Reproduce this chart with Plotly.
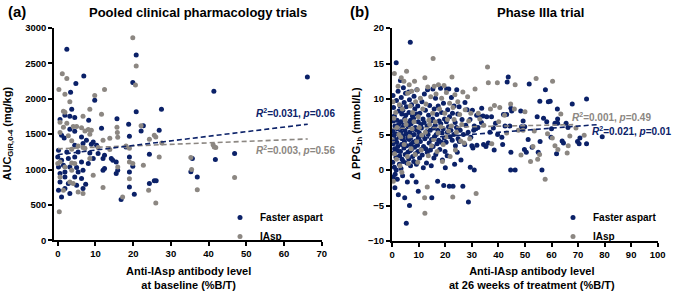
import plotly.graph_objects as go

NAVY = "#0b2168"
GRAY = "#8c8782"
FONT = "Liberation Sans, Arial, sans-serif"

# ---------------- Panel (a): pooled clinical pharmacology trials ----------------
a_faster = [
    (2.4, 2700), (6.9, 2320), (4.8, 2215), (3.4, 2093), (9.8, 1980), (19.9, 2230), (20.8, 2620),
    (3.7, 1853), (1.9, 1768), (3.2, 1754), (4.5, 1735), (0.6, 1707), (8.2, 1697), (20.8, 1815),
    (15.7, 1716), (18.8, 1640), (22.7, 1620), (22.1, 1546), (11.6, 1584), (3.2, 1570), (4.5, 1542),
    (1.0, 1485), (1.7, 1447), (6.3, 1461), (7.6, 1414), (9.4, 1390), (8.9, 1357), (6.7, 1367),
    (4.5, 1343), (19.0, 1470), (26.9, 1556), (2.4, 1249), (0.2, 1273), (5.4, 1249), (8.5, 1235),
    (10.7, 1226), (12.4, 1202), (14.2, 1155), (15.5, 1108), (14.6, 1131), (19.0, 1178), (24.3, 1216),
    (12.0, 1155), (0.0, 1178), (1.0, 1131), (2.8, 1155), (4.5, 1178), (6.3, 1108), (8.1, 1084),
    (9.4, 1155), (1.5, 1061), (0.2, 1037), (3.2, 1037), (5.0, 1028), (6.7, 990), (5.4, 966),
    (1.9, 966), (12.0, 990), (12.4, 1014), (15.9, 990), (15.5, 943), (19.0, 966), (19.9, 1047),
    (4.5, 896), (6.3, 872), (0.6, 943), (1.9, 896), (0.6, 825), (2.8, 801), (0.2, 707), (1.9, 731),
    (3.2, 660), (1.0, 613), (5.0, 778), (6.7, 731), (7.4, 792), (19.0, 754), (20.3, 650), (16.8, 575),
    (24.3, 801), (25.6, 840), (10.3, 1343), (18.1, 1320), (66.2, 2306), (41.4, 2107), (27.5, 1853),
    (35.7, 1155), (41.8, 1141), (46.9, 1226), (35.3, 967), (37.0, 896), (26.1, 840),
]
a_iasp = [
    (19.9, 2862), (20.8, 2462), (20.6, 2193), (1.2, 2352), (2.4, 2285), (0.3, 2132), (1.9, 2065),
    (3.2, 1957), (12.4, 2132), (9.8, 2047), (1.5, 1825), (1.9, 1811), (0.6, 1669), (2.4, 1655),
    (4.1, 1608), (5.0, 1608), (6.3, 1589), (1.5, 1598), (6.7, 1754), (8.5, 1853), (11.6, 1782),
    (8.1, 1565), (8.9, 1556), (7.2, 1546), (8.5, 1500), (0.6, 1523), (2.8, 1476), (3.7, 1405),
    (5.4, 1334), (6.7, 1310), (3.7, 1287), (7.2, 1301), (12.0, 1414), (13.8, 1443), (15.7, 1598),
    (15.8, 1523), (15.9, 1457), (10.7, 1310), (13.8, 1282), (18.1, 1334), (19.0, 1301), (24.3, 1428),
    (26.0, 1461), (22.1, 1617), (0.0, 1084), (0.6, 1108), (3.7, 1094), (4.5, 1084), (1.9, 1037),
    (3.7, 990), (8.5, 1155), (15.9, 1037), (19.0, 1108), (19.9, 1084), (22.7, 1061), (26.9, 1178),
    (0.6, 896), (9.4, 919), (3.2, 825), (4.1, 801), (5.4, 684), (6.7, 660), (1.5, 707), (12.0, 745),
    (17.2, 613), (19.0, 868), (24.1, 707), (26.0, 528), (0.4, 405), (25.6, 1485), (27.6, 1376),
    (35.3, 1170), (35.5, 1000), (41.2, 1350), (41.5, 1320), (41.9, 1310), (46.9, 887), (37.0, 716),
]
# regression lines: (intercept, slope, x_start, x_end)
a_fit_faster = (1210, 6.5, 0.0, 66.3)
a_fit_iasp = (1293, 2.1, 0.0, 66.3)

# ---------------- Panel (b): phase IIIa trial ----------------
b_faster = [
    (0.3, 10.5), (0.5, 8.8), (0.8, 7.6), (0.4, 6.9), (1.0, 6.2), (0.2, 5.5), (0.6, 4.9), (1.2, 4.3),
    (0.3, 3.7), (0.9, 3.0), (0.5, 2.4), (1.4, 1.8), (0.2, 1.1), (0.8, 0.4), (1.1, -0.6), (0.4, -1.0),
    (1.0, -2.5), (1.5, 15.1), (1.6, 9.8), (1.8, 7.0), (1.9, 5.8), (1.3, 5.1), (1.7, 3.9), (2.0, 2.7),
    (1.5, 0.0), (1.9, -1.3), (2.3, -3.5), (2.2, 11.1), (2.5, 8.3), (2.4, 6.4), (2.6, 4.6), (2.1, 3.3),
    (2.8, 2.0), (2.7, 0.8), (3.1, 12.6), (3.4, 10.2), (3.0, 9.0), (3.6, 7.9), (3.3, 6.8), (3.8, 5.9),
    (3.2, 5.3), (3.9, 4.4), (3.5, 3.6), (3.1, 2.6), (3.7, 1.5), (3.3, 0.2), (3.9, -0.8), (4.2, 11.6),
    (4.5, 9.5), (4.0, 8.4), (4.7, 7.2), (4.3, 6.3), (4.8, 5.6), (4.1, 4.8), (4.6, 4.0), (4.4, 3.1),
    (4.9, 2.2), (4.2, 1.2), (4.7, -3.9), (5.0, 10.8), (5.3, 8.9), (5.1, 7.7), (5.6, 6.6), (5.2, 5.1),
    (5.8, 4.5), (5.4, 3.4), (5.9, 2.5), (5.5, 1.0), (5.3, -7.5), (5.7, -1.7), (6.8, 18.0), (6.2, 11.0),
    (6.5, 9.9), (6.3, 8.1), (6.9, 7.0), (6.1, 6.1), (6.6, 5.3), (6.4, 4.3), (7.0, 3.6), (6.7, 2.7),
    (6.2, 1.6), (6.9, 0.6), (6.5, -5.0), (7.3, 9.2), (7.6, 7.6), (7.1, 6.5), (7.8, 5.7), (7.4, 4.9),
    (7.9, 3.9), (7.2, 2.9), (7.7, 1.9), (7.5, -0.8), (8.2, 10.4), (8.5, 8.6), (8.0, 7.3), (8.7, 6.0),
    (8.3, 5.0), (8.9, 4.1), (8.4, 3.2), (8.8, 2.3), (8.1, 1.2), (9.0, -1.7), (9.3, 11.3), (9.6, 9.0),
    (9.2, 7.9), (9.8, 6.8), (9.4, 5.6), (9.9, 4.6), (9.5, 3.5), (9.7, 2.6), (9.1, 0.8), (9.8, -3.0),
    (10.4, 8.0), (10.8, 6.4), (10.2, 5.2), (10.6, 4.0), (10.9, 2.9), (10.3, 1.7), (11.2, 9.6),
    (11.6, 7.2), (11.0, 5.9), (11.5, 4.8), (11.8, 3.3), (11.3, 2.1), (11.7, 0.3), (12.1, 10.7),
    (12.5, 8.4), (12.0, 6.7), (12.8, 5.4), (12.3, 4.4), (12.6, 3.0), (12.9, 1.0), (13.3, 11.3),
    (13.7, 7.7), (13.1, 6.2), (13.5, 5.0), (13.9, 3.8), (13.2, 2.5), (14.1, 9.1), (14.6, 6.9),
    (14.3, 5.6), (14.8, 4.3), (14.4, 2.8), (14.9, -3.9), (14.7, 0.6), (15.3, 11.4), (15.8, 8.6),
    (15.2, 7.2), (15.6, 5.9), (15.9, 4.7), (15.4, 3.3), (15.7, 1.7), (16.3, 10.1), (16.8, 7.8),
    (16.2, 6.3), (16.6, 5.0), (16.9, 3.7), (16.4, 2.2), (17.3, 9.0), (17.7, 6.9), (17.2, 5.6),
    (17.5, 4.2), (17.9, 2.9), (17.1, -1.6), (18.2, 11.5), (18.6, 8.1), (18.3, 6.5), (18.8, 5.2),
    (18.5, 3.9), (18.9, 1.4), (19.3, 9.4), (19.7, 7.2), (19.2, 5.8), (19.6, 4.5), (19.9, 2.6),
    (19.4, -2.2), (20.0, 0.3), (20.5, 11.4), (20.9, 8.5), (20.4, 6.8), (20.8, 5.3), (20.3, 3.9),
    (20.7, 2.0), (21.3, 11.4), (21.6, 7.5), (21.2, 6.1), (21.8, 4.7), (21.5, -2.3), (22.3, 10.2),
    (22.7, 8.0), (22.1, 5.6), (22.6, 4.2), (22.9, -2.3), (23.3, 9.0), (23.7, 6.7), (23.2, 5.0),
    (23.8, 3.4), (23.5, 0.8), (24.3, 11.3), (24.7, 7.9), (24.2, 6.0), (24.8, 4.4), (24.5, 2.5),
    (25.2, 8.9), (25.6, 5.6), (25.3, 4.0), (25.9, 1.4), (26.6, -2.3), (26.3, 7.1), (26.8, 5.0),
    (27.4, 9.5), (27.7, 6.3), (27.3, 3.6), (28.2, 8.5), (28.6, 5.3), (28.7, -4.5), (29.3, 7.1),
    (29.6, 4.6), (29.4, 0.4), (30.2, 8.4), (30.7, 5.6), (30.4, 3.1), (30.9, 0.0), (31.8, 7.7),
    (33.0, 7.5), (34.2, 7.6), (35.6, 7.5), (37.4, 7.5), (33.7, 8.7), (41.9, 7.8), (43.1, 7.8),
    (44.7, 8.7), (45.0, 8.3), (48.4, 8.3), (33.6, 6.7), (32.3, 6.0), (30.9, 6.2), (31.5, 5.8),
    (38.9, 6.6), (38.1, 5.9), (42.5, 6.2), (44.3, 6.2), (49.3, 6.9), (48.7, 6.1), (49.9, 6.1),
    (36.8, 5.3), (39.7, 5.0), (41.3, 4.6), (30.0, 3.4), (31.9, 3.5), (34.4, 3.6), (36.2, 3.8),
    (35.3, 3.3), (41.6, 3.6), (38.4, 2.8), (44.7, 2.5), (49.8, 2.9), (51.2, 4.3), (52.7, 3.2),
    (44.6, 0.0), (46.3, 0.0), (43.7, 13.1), (43.3, 12.4), (51.6, 12.1), (57.7, 11.3), (55.6, 9.7),
    (58.8, 9.6), (59.5, 9.7), (54.6, 7.5), (57.0, 7.3), (58.2, 6.8), (61.3, 6.6), (60.0, 5.8),
    (55.7, 4.0), (59.8, 4.6), (61.9, 2.3), (56.4, 0.0), (55.0, 2.5), (50.5, 2.5), (62.2, 8.6),
    (62.3, 7.2), (62.3, 6.6), (64.0, 4.1), (65.5, 6.6), (66.2, 6.0), (67.8, 9.3), (69.8, 4.0),
    (70.7, 4.5), (73.2, 10.0), (73.2, 3.7), (79.1, 4.7), (64.5, 3.8), (70.4, 3.7),
]
b_iasp = [
    (0.8, 13.6), (0.3, 9.6), (0.6, 7.3), (0.2, 4.2), (0.9, 2.3), (0.4, -1.6), (1.3, 8.1), (1.8, 6.0),
    (1.6, 1.5), (2.2, 11.8), (2.7, 9.2), (2.5, 5.0), (2.9, 0.6), (3.4, 13.0), (3.8, 8.6), (3.2, 4.6),
    (3.6, -0.3), (4.4, 12.5), (4.9, 7.0), (4.5, 3.6), (5.4, 13.9), (5.8, 10.8), (5.2, 6.4), (5.7, 1.9),
    (6.4, 12.0), (6.8, 9.0), (6.6, 4.7), (6.1, 0.9), (7.3, 11.1), (7.7, 8.1), (7.5, 5.8), (7.1, 3.0),
    (8.4, 12.5), (8.8, 9.6), (8.2, 6.8), (8.6, 2.2), (9.4, 11.3), (9.8, 7.5), (9.2, 4.0), (9.6, 1.1),
    (10.6, 10.1), (10.2, 6.0), (10.9, 2.8), (11.5, 8.6), (11.1, 4.9), (12.3, 13.0), (12.7, 9.3),
    (12.5, 5.3), (12.2, -3.9), (12.3, -6.1), (13.4, 11.7), (13.8, 7.0), (13.6, 2.0), (13.2, -2.4),
    (14.5, 10.3), (14.1, 6.4), (14.8, 3.4), (15.4, 15.7), (15.8, 11.8), (15.2, 8.0), (15.6, 4.3),
    (16.5, 10.7), (16.2, 6.8), (16.9, 2.6), (17.4, 12.0), (17.8, 8.6), (17.3, 5.2), (18.6, 10.1),
    (18.3, 6.1), (18.9, 1.2), (19.5, 11.9), (19.8, 8.0), (19.2, 3.6), (20.4, 10.9), (20.8, 7.1),
    (20.3, 4.7), (21.6, 9.4), (21.2, 5.5), (21.8, 1.9), (22.5, 13.1), (22.9, 8.8), (22.3, 6.2),
    (22.8, -3.8), (23.6, 10.6), (23.3, 7.1), (23.8, 2.8), (24.7, 9.6), (24.2, 5.3), (25.4, 7.8),
    (25.8, 4.1), (26.6, 11.0), (26.2, 6.4), (27.5, 8.5), (27.1, 3.8), (28.4, 10.3), (28.8, 6.9),
    (29.6, 8.0), (29.2, 4.4), (31.2, 11.4), (31.6, -3.3), (32.4, 8.0), (33.0, 7.2), (34.5, 6.3),
    (35.9, 14.5), (36.2, 12.3), (37.0, 8.6), (38.5, 9.1), (37.5, 3.7), (39.6, 12.3), (40.5, 8.8),
    (40.1, 6.8), (42.3, 7.7), (43.1, 5.2), (44.6, 9.3), (46.3, 12.0), (46.0, 8.6), (47.5, 5.6),
    (50.0, 8.2), (48.5, 2.1), (52.1, 1.2), (53.5, 5.5), (54.2, 12.9), (54.8, 1.5), (55.5, 2.2),
    (57.6, -1.3), (58.5, 5.1), (60.4, 12.5), (60.3, 4.5), (61.3, 3.4), (62.4, 2.9), (63.5, 7.9),
    (66.3, 3.4), (66.9, 4.8), (69.2, 5.9), (72.3, 4.9), (65.9, 2.4), (53.0, 3.3), (49.3, 5.6),
]
b_fit_faster = (4.15, 0.029, 0.0, 78.0)
b_fit_iasp = (5.85, 0.008, 0.0, 69.0)

series_names = ["Faster aspart", "IAsp"]
stats_a = ["<i>R</i><sup>2</sup>=0.031, <i>p</i>=0.06", "<i>R</i><sup>2</sup>=0.003, <i>p</i>=0.56"]
stats_b = ["<i>R</i><sup>2</sup>=0.021, <i>p</i>=0.01", "<i>R</i><sup>2</sup>=0.001, <i>p</i>=0.49"]

W, H = 673, 294
fig = go.Figure()


def px_x(p):
    return p / W


def px_y(p):
    return 1 - p / H


def add_scatter(pts, color, name, xa, ya, legend):
    fig.add_trace(go.Scatter(
        x=[p[0] for p in pts], y=[p[1] for p in pts], mode="markers", name=name,
        marker=dict(color=color, size=5, line=dict(width=0)),
        xaxis=xa, yaxis=ya, legend=legend, hoverinfo="skip"))


def add_fit(fit, color, xa, ya):
    b0, b1, x0, x1 = fit
    fig.add_trace(go.Scatter(
        x=[x0, x1], y=[b0 + b1 * x0, b0 + b1 * x1], mode="lines",
        line=dict(color=color, width=1.6, dash="5px,3px"), showlegend=False,
        xaxis=xa, yaxis=ya, hoverinfo="skip"))


add_scatter(a_faster, NAVY, series_names[0], "x", "y", "legend")
add_scatter(a_iasp, GRAY, series_names[1], "x", "y", "legend")
add_fit(a_fit_iasp, GRAY, "x", "y")
add_fit(a_fit_faster, NAVY, "x", "y")

add_scatter(b_faster, NAVY, series_names[0], "x2", "y2", "legend2")
add_scatter(b_iasp, GRAY, series_names[1], "x2", "y2", "legend2")
add_fit(b_fit_iasp, GRAY, "x2", "y2")
add_fit(b_fit_faster, NAVY, "x2", "y2")

axis_common = dict(showline=True, linecolor="black", linewidth=1.5, ticks="outside", ticklen=4,
                   tickwidth=1.5, tickcolor="black", showgrid=False, zeroline=False, automargin=False,
                   tickfont=dict(family=FONT, size=9.5, color="black", weight="bold"))

legend_common = dict(xanchor="left", yanchor="top", bgcolor="rgba(0,0,0,0)",
                     font=dict(family=FONT, size=10, color="black", weight="bold"), tracegroupgap=0)

fig.update_layout(
    width=W, height=H, margin=dict(l=0, r=0, t=0, b=0, autoexpand=False),
    paper_bgcolor="white", plot_bgcolor="white",
    font=dict(family=FONT, color="black"),
    xaxis=dict(domain=[px_x(54), px_x(321.7)], range=[-1, 70], tickmode="linear", tick0=0, dtick=10,
               anchor="y", **axis_common),
    yaxis=dict(domain=[px_y(240.3), px_y(28)], range=[0, 3000], tickmode="linear", tick0=0, dtick=500,
               anchor="x", **axis_common),
    xaxis2=dict(domain=[px_x(391.7), px_x(657.7)], range=[-0.2, 100], tickmode="linear", tick0=0,
                dtick=10, anchor="y2", **axis_common),
    yaxis2=dict(domain=[px_y(241), px_y(28)], range=[-10, 20], tickmode="linear", tick0=-10, dtick=5,
                anchor="x2", **axis_common),
    legend=dict(x=px_x(220), y=px_y(203), **legend_common),
    legend2=dict(x=px_x(553), y=px_y(203), **legend_common),
    showlegend=True,
)

ann = []


def text(x, y, s, size, color="black", xanchor="center", angle=0, bold=True):
    ann.append(dict(x=px_x(x), y=px_y(y), xref="paper", yref="paper", text=s, showarrow=False,
                    xanchor=xanchor, yanchor="middle", textangle=angle,
                    font=dict(family=FONT, size=size, color=color, weight="bold" if bold else "normal")))


text(6, 11, "(a)", 15, xanchor="left")
text(198, 12, "Pooled clinical pharmacology trials", 13)
text(348, 11, "(b)", 15, xanchor="left")
text(540, 12, "Phase IIIa trial", 13)

text(7.5, 134, "AUC<sub>GIR,0-4</sub> (mg/kg)", 11, angle=-90)
text(357, 134, "\u0394 PPG<sub>1h</sub> (mmol/L)", 11, angle=-90)

text(188, 278, "Anti-IAsp antibody level<br>at baseline (%B/T)", 11)
text(531.5, 278, "Anti-IAsp antibody level<br>at 26 weeks of treatment (%B/T)", 11)

text(337, 113, stats_a[0], 10, color=NAVY, xanchor="right")
text(337, 150, stats_a[1], 10, color=GRAY, xanchor="right")
text(653, 117, stats_b[1], 10, color=GRAY, xanchor="right")
text(673, 131, stats_b[0], 10, color=NAVY, xanchor="right")

fig.update_layout(annotations=ann)
fig.write_html("out.html", config={"displayModeBar": False},
               post_script="document.body.style.margin='0px';")
